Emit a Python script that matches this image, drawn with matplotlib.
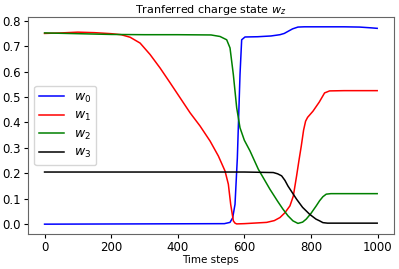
import numpy as np
import matplotlib
matplotlib.use("Agg")
import matplotlib.pyplot as plt

# valeurs
t0 = [0, 540, 557, 565, 572, 579, 587, 592, 602, 640, 680, 707, 720, 731, 745, 761, 780, 900, 946, 980, 999]
w0 = [0, 0.002, 0.007, 0.025, 0.078, 0.26, 0.588, 0.725, 0.736, 0.737, 0.740, 0.745, 0.750, 0.758, 0.768, 0.775, 0.776, 0.776, 0.775, 0.772, 0.770]

t1 = [0, 50, 100, 150, 200, 230, 257, 287, 317, 347, 377, 407, 437, 467, 497, 522, 542, 552, 559, 567, 572, 577, 600, 667, 690, 707, 722, 737, 747, 757, 764, 771, 778, 784, 790, 806, 825, 841, 856, 900, 999]
w1 = [0.750, 0.752, 0.755, 0.753, 0.749, 0.745, 0.735, 0.712, 0.667, 0.614, 0.556, 0.497, 0.438, 0.386, 0.327, 0.268, 0.209, 0.157, 0.078, 0.013, 0.004, 0.001, 0.002, 0.007, 0.014, 0.026, 0.045, 0.072, 0.11, 0.19, 0.25, 0.307, 0.37, 0.405, 0.42, 0.444, 0.48, 0.516, 0.524, 0.525, 0.525]

t2 = [0, 100, 200, 300, 400, 500, 527, 547, 557, 567, 577, 587, 600, 617, 642, 677, 700, 716, 731, 746, 761, 775, 786, 800, 816, 826, 836, 846, 860, 999]
w2 = [0.752, 0.749, 0.746, 0.745, 0.745, 0.744, 0.738, 0.725, 0.693, 0.588, 0.458, 0.379, 0.33, 0.288, 0.216, 0.137, 0.09, 0.059, 0.033, 0.013, 0.003, 0.008, 0.02, 0.042, 0.072, 0.092, 0.108, 0.118, 0.12, 0.12]

t3 = [0, 600, 687, 700, 712, 722, 731, 745, 757, 775, 796, 815, 826, 836, 850, 999]
w3 = [0.205, 0.205, 0.203, 0.198, 0.19, 0.172, 0.15, 0.122, 0.098, 0.066, 0.039, 0.02, 0.013, 0.006, 0.004, 0.004]

fig = plt.figure(figsize=(3.99, 2.69), dpi=100)
ax = fig.add_axes([0.070, 0.130, 0.917, 0.807])

ax.plot(t0, w0, color='blue', lw=1.1, label=r'$w_0$')
ax.plot(t1, w1, color='red', lw=1.1, label=r'$w_1$')
ax.plot(t2, w2, color='green', lw=1.1, label=r'$w_2$')
ax.plot(t3, w3, color='black', lw=1.1, label=r'$w_3$')

ax.set_title(r'Tranferred charge state $w_z$', fontsize=8, pad=3)
ax.set_xlabel('Time steps', fontsize=7.5, labelpad=1)
ax.tick_params(labelsize=8.5, length=3, pad=2)
for s in ax.spines.values():
    s.set_color('#666666')
ax.legend(loc='center left', fontsize=9, handlelength=2.0, labelspacing=0.35)

fig.savefig('out.png', dpi=100)
